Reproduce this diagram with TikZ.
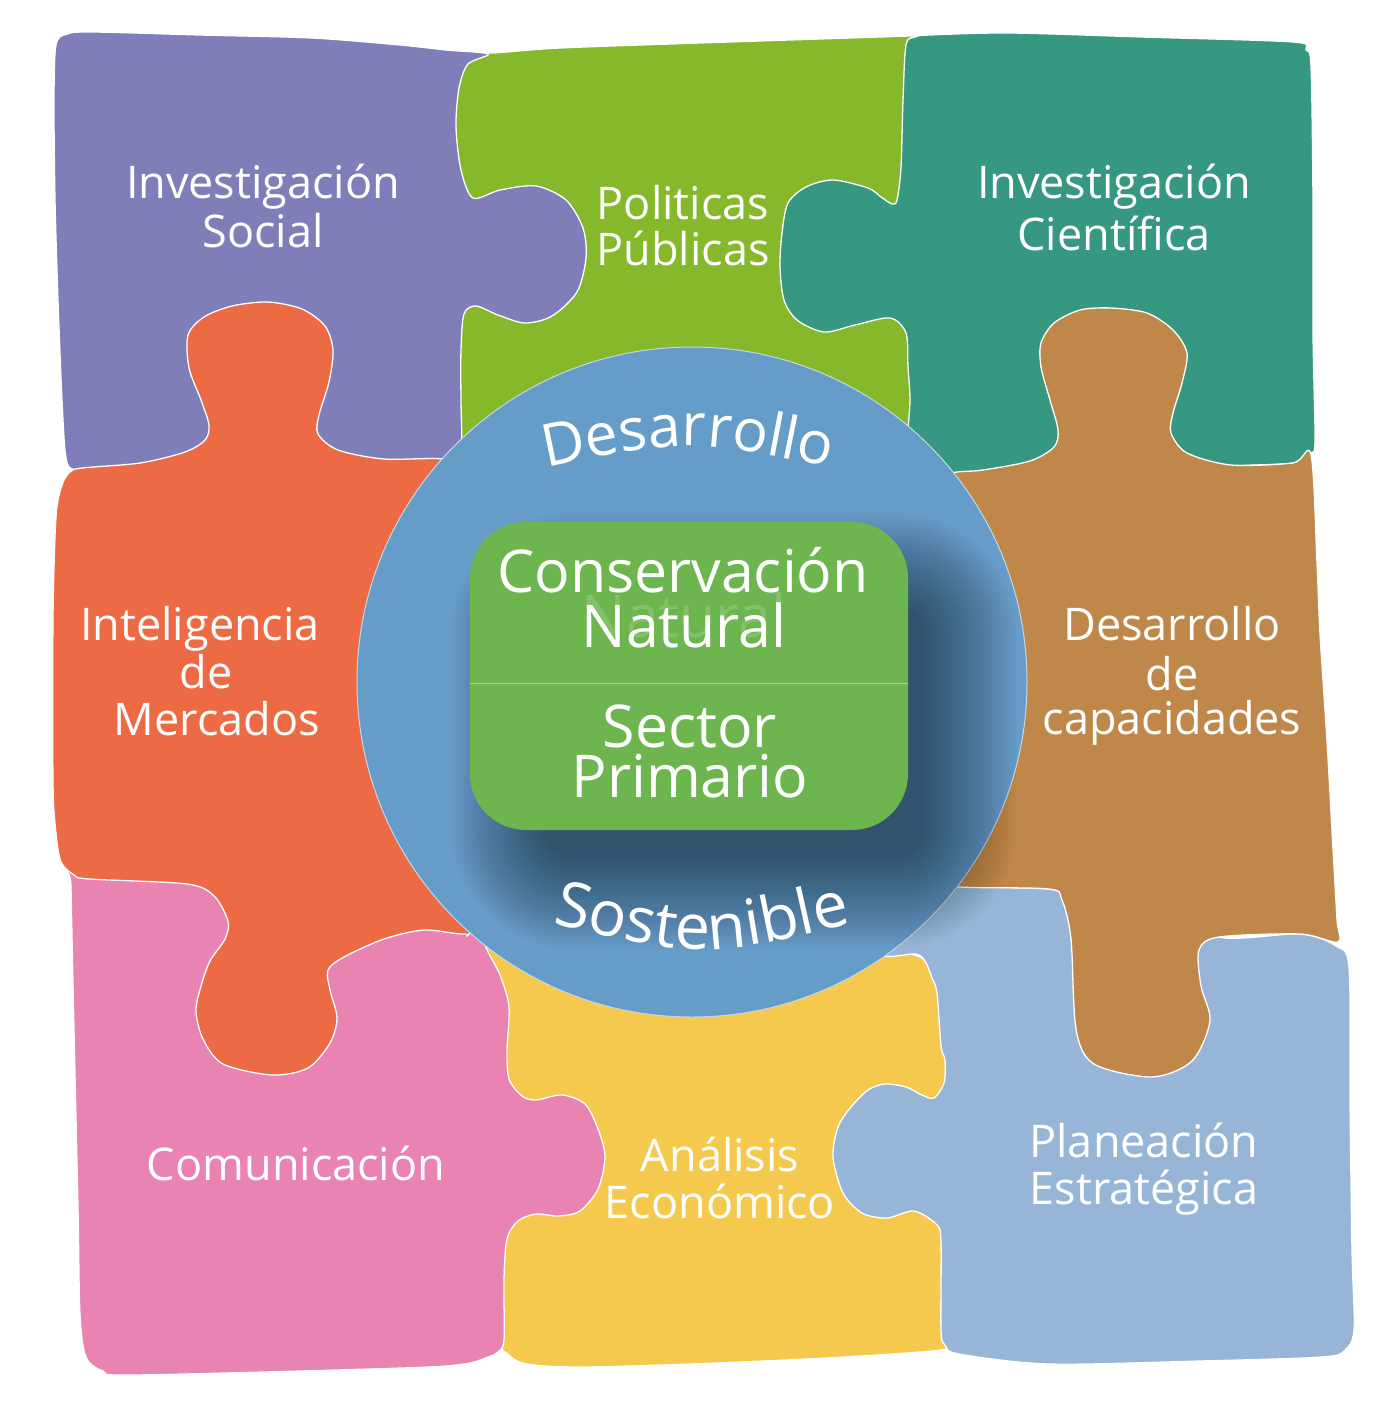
\documentclass[tikz,border=0pt]{standalone}
\usepackage{fontspec}
\setmainfont{Open Sans}
\usetikzlibrary{decorations.text}
\definecolor{cPurple}{HTML}{7F7EB9}
\definecolor{cGreen}{HTML}{85B82B}
\definecolor{cTeal}{HTML}{369880}
\definecolor{cOrange}{HTML}{EC6B45}
\definecolor{cBrown}{HTML}{BF884A}
\definecolor{cPink}{HTML}{E983B1}
\definecolor{cYellow}{HTML}{F5C94E}
\definecolor{cLight}{HTML}{97B6D7}
\definecolor{cCircle}{HTML}{669CC8}
\definecolor{cBox}{HTML}{6DB54F}
\definecolor{cDivider}{HTML}{A5D38F}
\newcommand{\arcfontA}{\fontsize{59}{59}\selectfont}
\newcommand{\arcfontB}{\fontsize{63}{63}\selectfont}
\begin{document}
\begin{tikzpicture}[x=1pt,y=-1pt,
  piece/.style={draw=white, line width=1.3pt, line join=round},
  lbl/.style={text=white, anchor=base, font=\fontsize{45}{54}\selectfont, inner sep=0pt},
  big/.style={text=white, anchor=base, font=\fontsize{59}{66}\selectfont, inner sep=0pt},
  arctext/.style 2 args={decorate, decoration={text along path, text align=center, text color=white, text={|#1|#2}}}
]
\useasboundingbox (0,0) rectangle (1393,1409);
\fill[white] (0,0) rectangle (1393,1409);

% green (top middle)
\path[piece, fill=cGreen] plot[smooth] coordinates {(470,50) (491,53) (560,48) (700,43) (850,38) (940,35)} -- (945,470) -- (440,470) -- (430,100) -- cycle;
% yellow (bottom middle)
\path[piece, fill=cYellow] plot[smooth cycle, tension=0.5] coordinates {
(472,925) (600,935) (750,950) (870,953) (905,953) (925,960) (945,985) (950,1100) (950,1300)
(947,1340) (940,1350) (825,1358) (690,1364) (580,1367) (527,1364) (508,1354) (500,1335)
(494,1200) (490,1000) (482,950)};
% purple (top left)
\path[piece, fill=cPurple] plot[smooth cycle, tension=0.5] coordinates {
(56,45) (67,34) (94,32) (200,35) (312,38) (400,45) (446,50) (488,54)
(468,64) (459,88) (456,127) (461,170) (473,198)
(500,190) (536,186) (566,200) (583,228) (586,258) (577,292) (552,316) (525,323) (498,315) (476,306) (464,314)
(461,350) (461,400) (462,445) (462,476)
(300,476) (110,474) (75,470) (66,458) (62,400) (58,300) (55,200) (54,100)};
% teal (top right)
\path[piece, fill=cTeal] plot[smooth cycle, tension=0.5] coordinates {
(906,45) (915,37) (930,35) (1010,33) (1142,37) (1293,42) (1306,50) (1311,67) (1313,200) (1313,333)
(1315,440) (1311,453) (1293,463) (1231,466) (1150,472) (1000,482) (915,478) (908,440) (910,400)
(908,367) (906,333) (890,318) (855,325) (824,332) (797,320) (784,300) (780,267) (782,233) (788,203)
(806,187) (833,180) (868,188) (881,197) (892,204) (897,200) (901,167) (903,100)};
% pink (bottom left)
\path[piece, fill=cPink] plot[smooth cycle, tension=0.5] coordinates {
(71,862) (200,862) (330,870) (440,890) (472,915)
(487,950) (500,975) (509,1007) (507,1050) (509,1079) (522,1096) (536,1100) (562,1095) (585,1104)
(598,1129) (605,1157) (598,1189) (580,1211) (558,1216) (536,1214) (518,1221) (507,1239) (504,1279)
(504,1340) (498,1352) (488,1357) (464,1364) (402,1368) (134,1375) (103,1371) (86,1357) (80,1314)
(78,1207) (74,1029) (71,886)};
% light blue (bottom right)
\path[piece, fill=cLight] plot[smooth cycle, tension=0.5] coordinates {
(930,882) (960,886) (1049,889) (1080,896) (1180,902) (1219,937) (1300,934) (1336,946) (1349,968)
(1350,1100) (1352,1250) (1354,1329) (1345,1350) (1322,1357) (1200,1361) (1049,1364) (959,1354)
(945,1345) (941,1330) (941,1243) (937,1225) (914,1211) (887,1218) (862,1213) (843,1193) (833,1157)
(838,1127) (851,1107) (868,1090) (885,1084) (906,1087) (922,1095) (934,1098) (944,1083) (945,1060)
(941,1046) (937,993) (932,978) (926,963) (916,954) (880,954) (880,910)};
% orange (middle left)
\path[piece, fill=cOrange] plot[smooth cycle, tension=0.5] coordinates {
(62,485) (70,472) (82,468) (140,463) (185,452) (205,440) (209,425) (201,400) (189,368) (188,335)
(204,317) (232,306) (268,302) (302,309) (325,326) (333,350) (329,382) (319,415) (318,434) (338,450)
(384,459) (446,459) (520,470) (560,600) (560,800) (475,925)
(464,934) (424,930) (384,939) (344,957) (328,970) (330,990) (337,1018) (330,1043) (308,1068)
(272,1075) (223,1064) (203,1039) (196,1011) (201,986) (210,961) (225,939) (228,921) (214,896)
(187,884) (89,879) (74,875) (61,862) (56,833) (53,783) (53,617) (56,517)};
% brown (middle right)
\path[piece, fill=cBrown] plot[smooth cycle, tension=0.5] coordinates {
(935,485) (952,473) (983,470) (1030,461) (1054,447) (1058,430) (1050,400) (1041,367) (1041,343)
(1054,323) (1080,310) (1111,308) (1147,313) (1173,330) (1187,353) (1182,383) (1173,413) (1171,433)
(1187,453) (1231,465) (1293,463) (1311,455) (1317,563) (1320,634) (1327,741) (1333,849) (1337,920)
(1338,942) (1300,934) (1219,937) (1199,950) (1201,986) (1210,1021) (1192,1061) (1152,1077)
(1094,1064) (1076,1029) (1071,939) (1062,900) (1049,889) (960,887) (930,880) (900,700)};

% centre circle
\node[circle, fill=cCircle, draw=white!60!cCircle, line width=1pt, minimum size=670pt, inner sep=0pt] (ring) at (692,682) {};
% soft shadow of the green box (towards lower right)
\foreach \e in {-30,-27,...,63} {
  \pgfmathsetmacro{\rr}{max(56+\e,10)}
  \fill[black, opacity=0.016, rounded corners=\rr pt] (515-\e,577-\e) rectangle (953+\e,885+\e);
}
% green box
\node[fill=cBox, rounded corners=56pt, minimum width=438pt, minimum height=308pt, inner sep=0pt] (box) at (689,676) {};
\draw[cDivider, line width=1pt] ([yshift=-7pt]box.west) -- ([yshift=-7pt]box.east);

\node[big, opacity=0.15] (ghost) at (684,637) {Natural};
\node[big] (c1) at (683,592) {Conservación};
\node[big] (c2) at (684,647) {Natural};
\node[big] (c3) at (690,747) {Sector};
\node[big] (c4) at (690,797) {Primario};

\path[arctext={\arcfontA}{Desarrollo}] (520,473) .. controls (688,437) .. (856,473);
\path[arctext={\arcfontB}{Sostenible}] (540,921) .. controls (702,959) .. (864,921);

% labels
\node[lbl] (a1) at (263,198) {Investigación};
\node[lbl] (a2) at (263,247) {Social};
\node[lbl] (b1) at (683,219) {Politicas};
\node[lbl] (b2) at (683,265) {Públicas};
\node[lbl] (d1) at (1114,198) {Investigación};
\node[lbl] (d2) at (1114,250) {Científica};
\node[lbl] (e1) at (200,640) {Inteligencia};
\node[lbl] (e2) at (206,688) {de};
\node[lbl] (e3) at (217,735) {Mercados};
\node[lbl] (f1) at (1172,640) {Desarrollo};
\node[lbl] (f2) at (1172,690) {de};
\node[lbl] (f3) at (1172,734) {capacidades};
\node[lbl] (g1) at (296,1180) {Comunicación};
\node[lbl] (h1) at (720,1171) {Análisis};
\node[lbl] (h2) at (720,1218) {Económico};
\node[lbl] (k1) at (1144,1157) {Planeación};
\node[lbl] (k2) at (1144,1204) {Estratégica};
\end{tikzpicture}
\end{document}
